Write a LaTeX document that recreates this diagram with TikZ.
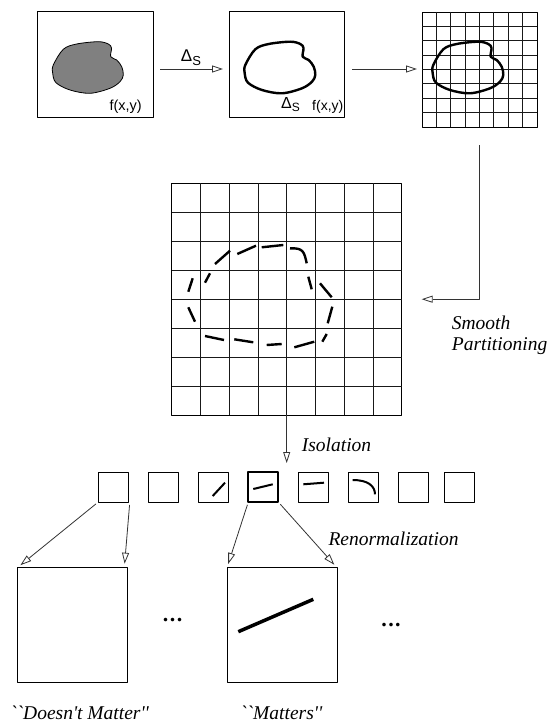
\documentclass[tikz,border=0pt]{standalone}
\usepackage{fontspec}
\setmainfont{Liberation Serif}[Ligatures=TeXOff]
\newfontfamily\sansf{Liberation Sans}
\usetikzlibrary{arrows.meta,calc}
\newcommand\myblob{plot[smooth cycle,tension=0.55] coordinates{(53.3,65) (63.3,49.3) (76.7,44) (98.3,41.7) (108.3,44) (111.5,48) (110.7,56.7) (116.7,60) (121.7,66.7) (123.3,75) (120,81.7) (110,88.3) (90,93.3) (70,90) (56,82.7) (52.7,73.3)}}
\begin{document}
\begin{tikzpicture}[x=1pt,y=-1pt,line join=round,
  box/.style={draw=black,line width=0.9pt,inner sep=0pt,outer sep=0pt,minimum width=#1},
  gridline/.style={draw=black!90,line width=0.9pt},
  arr/.style={draw=black!80,line width=0.8pt,-{Triangle[open,length=11pt,width=7pt]}},
  lbl/.style={font=\itshape\fontsize{19.5}{21}\selectfont,inner sep=0pt},
  stroke/.style={line width=2.4pt},
  dots/.style={font=\bfseries\fontsize{22}{22}\selectfont,inner sep=0pt}]
\useasboundingbox[fill=white] (0,0) rectangle (549,725);
% top row
\node[box=116pt,minimum height=106pt] (b1) at (95,64) {};
\node[box=115pt,minimum height=106pt] (b2) at (286.5,64) {};
\node[box=115pt,minimum height=115pt] (g3) at (479.5,69.5) {};
\fill[fill=black!50] \myblob;
\draw[line width=0.8pt] \myblob;
\draw[stroke,shift={(192,0)}] \myblob;
\foreach \i in {1,...,7}{
  \draw[gridline] ($(g3.north west)!\i/8!(g3.north east)$) -- ($(g3.south west)!\i/8!(g3.south east)$);
  \draw[gridline] ($(g3.north west)!\i/8!(g3.south west)$) -- ($(g3.north east)!\i/8!(g3.south east)$);
}
\draw[stroke,shift={(380,0)}] \myblob;
\node[anchor=base east,inner sep=0pt,font=\sansf\fontsize{14.5}{14.5}\selectfont] (t1) at (142,110) {f(x,y)};
\node[anchor=base west,inner sep=0pt,font=\sansf\fontsize{16}{16}\selectfont] (t2a) at (281,108.5) {Δ\raisebox{-3pt}{\fontsize{12}{12}\selectfont S}};
\node[anchor=base east,inner sep=0pt,font=\sansf\fontsize{14}{14}\selectfont] (t2b) at (343.5,110) {f(x,y)};
\draw[arr,shorten <=7pt,shorten >=6pt] ([yshift=-5pt]b1.east) -- ([yshift=-5pt]b2.west)
  node[midway,above=3pt,inner sep=0pt,font=\sansf\fontsize{17}{17}\selectfont] (d1) {Δ\raisebox{-3.5pt}{\fontsize{13}{13}\selectfont S}};
\draw[arr,shorten <=8pt,shorten >=5pt] ([yshift=-5pt]b2.east) -- ([yshift=-5pt]b2.east -| g3.west);
% big grid
\node[box=230pt,minimum height=232pt] (g4) at (286.7,299.2) {};
\foreach \i in {1,...,7}{
  \draw[gridline] ($(g4.north west)!\i/8!(g4.north east)$) -- ($(g4.south west)!\i/8!(g4.south east)$);
  \draw[gridline] ($(g4.north west)!\i/8!(g4.south west)$) -- ($(g4.north east)!\i/8!(g4.south east)$);
}
\begin{scope}[stroke]
\draw (215,264) -- (230,250.7);
\draw (237.3,254) -- (256,245.7);
\draw (261.7,247.3) -- (283.3,245);
\draw (290,248.3) .. controls (303,248) and (304,251) .. (306.7,263.3);
\draw (308.3,276.7) -- (311.7,289.3);
\draw (320,283.3) -- (331.7,297.3);
\draw (332.3,306.7) -- (327.7,323.3);
\draw (326.7,334) -- (322.3,341.7);
\draw (314.3,341.7) -- (294.3,347.3);
\draw (266.7,345) -- (281.7,344);
\draw (234.3,339.3) -- (253.3,342.3);
\draw (205,336) -- (224,340);
\draw (188.3,307.3) -- (195,321.7);
\draw (188.3,291.7) -- (192.7,278.3);
\draw (205,282.7) -- (210,273.3);
\end{scope}
\coordinate (c1) at (479,145);
\draw[arr] (c1) |- ([xshift=20pt]g4.east);
\node[lbl,anchor=base west,align=left] (sp) at (451.7,350.5) {Smooth\\Partitioning};
% small boxes
\foreach \n/\x in {1/113.3,2/163.3,3/213.3,5/313.3,6/363.3,7/413.3,8/459}{
  \node[box=30pt,minimum height=30pt] (s\n) at (\x,487) {};
}
\node[box=30pt,minimum height=30pt,line width=2.2pt] (s4) at (263.3,487) {};
\draw[line width=2pt] (212.7,496) -- (225,482.7);
\draw[line width=2pt] (253.3,489) -- (272.7,484.3);
\draw[line width=2pt] (303.3,484.3) -- (324,482.7);
\draw[line width=2pt] (352.7,480) .. controls (368,480) and (375,486) .. (375,494.3);
\draw[arr] (g4.south) -- (g4.south |- s4.north) [shorten >=9pt];
\node[lbl,anchor=base west] (iso) at (301.7,451) {Isolation};
% bottom boxes
\node[box=110pt,minimum height=115pt] (B1) at (72.3,625.2) {};
\node[box=110pt,minimum height=115pt] (B2) at (282,625.2) {};
\draw[line width=3.5pt] (238.3,631.7) -- (313.3,599.3);
\draw[arr,shorten <=3pt,shorten >=4pt] (s1.south west) -- (B1.north west);
\draw[arr,shorten <=3pt,shorten >=4pt] ([xshift=1.5pt]s1.south east) -- ([xshift=-3pt]B1.north east);
\draw[arr,shorten <=3pt,shorten >=4pt] (s4.south west) -- (B2.north west);
\draw[arr,shorten <=3pt,shorten >=4pt] (s4.south east) -- (B2.north east);
\node[lbl,anchor=base west] (ren) at (328.3,545.5) {Renormalization};
\node[dots] (e1) at (172.7,620) {.\hspace{1.5pt}.\hspace{1.5pt}.};
\node[dots] (e2) at (391,625) {.\hspace{1.5pt}.\hspace{1.5pt}.};
\node[lbl,anchor=base west] (dm) at (10,719) {``Doesn't Matter''};
\node[lbl,anchor=base west] (mt) at (240,719) {``Matters''};
\end{tikzpicture}
\end{document}
